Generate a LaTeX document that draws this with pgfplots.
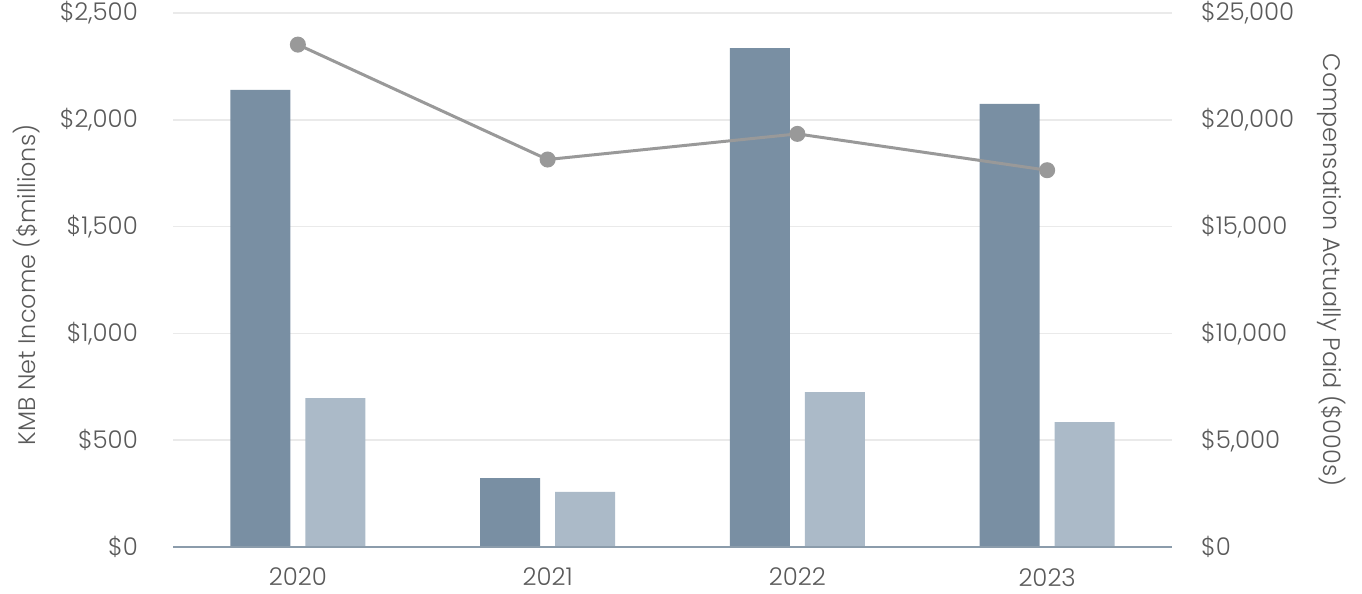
\documentclass[border=0pt]{standalone}
\usepackage{pgfplots}
\pgfplotsset{compat=1.18}
\usepackage{fontspec}
\setmainfont{Poppins}[UprightFont={* Light}]
\definecolor{darkbar}{HTML}{798FA3}
\definecolor{lightbar}{HTML}{ABBAC8}
\definecolor{linec}{HTML}{999999}
\definecolor{gridc}{HTML}{EAEAEA}
\definecolor{axisc}{HTML}{8B9CAB}
\definecolor{txt}{HTML}{5A5A5A}
\begin{document}
\begin{tikzpicture}
\pgfplotsset{
  every axis/.append style={
    scale only axis, width=999bp, height=534bp,
    xmin=-0.5, xmax=3.5,
    font=\fontsize{24.5}{28}\selectfont, color=txt,
    /pgf/number format/assume math mode=true,
    major tick length=0pt,
  }
}
% bars on the right axis
\begin{axis}[
  axis y line*=right, axis x line*=bottom,
  axis line style={draw=none},
  ymin=0, ymax=25000, ytick={0,5000,...,25000},
  yticklabels={\$0,\$5{,}000,\$10{,}000,\$15{,}000,\$20{,}000,\$25{,}000},
  yticklabel style={anchor=west, inner sep=0pt, xshift=29bp, color=txt},
  ymajorgrids, grid style={gridc, line width=1.5bp},
  xtick={0,1,2,3}, xticklabels={2020,2021,2022,2023},
  xticklabel style={anchor=north, inner sep=0pt, yshift=-21bp, color=txt},
  ylabel={Compensation Actually Paid (\$000s)},
  every axis y label/.style={at={([xshift=160bp,yshift=10bp]rel axis cs:1,0.5)}, rotate=-90, anchor=center, color=txt, font=\fontsize{24}{28}\selectfont},
]
\addplot[ybar, bar width=60bp, bar shift=-37.5bp, fill=darkbar, draw=none]
  coordinates {(0,21400) (1,3230) (2,23350) (3,20750)};
\addplot[ybar, bar width=60bp, bar shift=37.5bp, fill=lightbar, draw=none]
  coordinates {(0,6975) (1,2575) (2,7250) (3,5850)};
\draw[axisc, line width=2bp] (rel axis cs:0,0) -- (rel axis cs:1,0);
\end{axis}
% line on the left axis
\begin{axis}[
  axis y line*=left, axis x line=none,
  axis line style={draw=none},
  ymin=0, ymax=2500, ytick={0,500,...,2500},
  yticklabels={\$0,\$500,\$1{,}000,\$1{,}500,\$2{,}000,\$2{,}500},
  yticklabel style={anchor=east, inner sep=0pt, xshift=-35bp, color=txt},
  ylabel={KMB Net Income (\$millions)},
  every axis y label/.style={at={([xshift=-146bp,yshift=-5bp]rel axis cs:0,0.5)}, rotate=90, anchor=center, color=txt, font=\fontsize{24}{28}\selectfont},
]
\addplot[linec, line width=3bp, mark=*, mark size=6.5bp, mark options={fill=linec, draw=linec}]
  coordinates {(0,2352) (1,1814) (2,1934) (3,1764)};
\end{axis}
\pgfresetboundingbox
\useasboundingbox (-173bp,-47bp) rectangle (1189bp,547bp);
\end{tikzpicture}
\end{document}
